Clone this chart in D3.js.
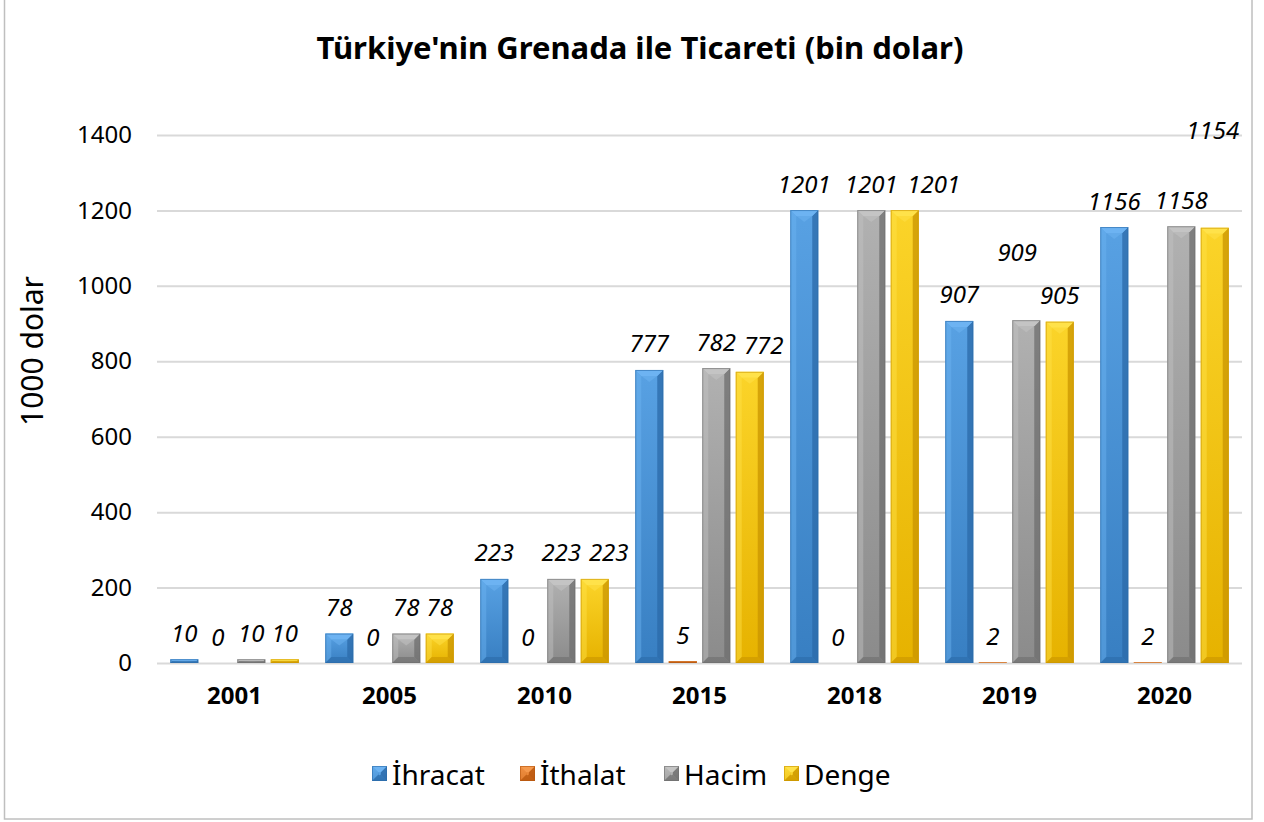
<!DOCTYPE html>
<html>
<head>
<meta charset="utf-8">
<script src="https://cdn.jsdelivr.net/npm/d3@7"></script>
<style>
  html, body { margin: 0; padding: 0; background: #fff; }
  svg { display: block; font-family: 'Noto Sans', sans-serif; }
</style>
</head>
<body>
<div id="chart"></div>
<script>
// Veriler
const years = ['2001', '2005', '2010', '2015', '2018', '2019', '2020'];
const seriesNames = ['İhracat', 'İthalat', 'Hacim', 'Denge'];
const ihracat = [10, 78, 223, 777, 1201, 907, 1156];
const ithalat = [0, 0, 0, 5, 0, 2, 2];
const hacim = [10, 78, 223, 782, 1201, 909, 1158];
const denge = [10, 78, 223, 772, 1201, 905, 1154];
const yTicks = [0, 200, 400, 600, 800, 1000, 1200, 1400];

const seriesValues = [ihracat, ithalat, hacim, denge];

// Renkler
const palette = {
  'İhracat': { light: '#6db3f2', base: '#3f8bd0', dark: '#2b6aa8' },
  'İthalat': { light: '#f59a4e', base: '#e2711d', dark: '#b5560f' },
  'Hacim':   { light: '#c4c4c4', base: '#9a9a9a', dark: '#6e6e6e' },
  'Denge':   { light: '#ffe24a', base: '#f6c200', dark: '#c99400' }
};

// Excel etiket çakışmasından kaynaklanan kaymalar (px)
const labelShift = {
  '2010|Denge': [14, 0],
  '2015|Denge': [14, 0],
  '2018|Denge': [29, 0],
  '2019|Hacim': [-9, -42],
  '2020|Denge': [-2, -71]
};

const width = 1264, height = 822;
const margin = { top: 135, right: 22, bottom: 159, left: 157 };

const svg = d3.select('#chart').append('svg')
  .attr('width', width)
  .attr('height', height);

// Dış çerçeve
svg.append('rect')
  .attr('x', 4.5).attr('y', -2)
  .attr('width', 1247.5).attr('height', 821)
  .attr('fill', 'none')
  .attr('stroke', '#bfbfbf')
  .attr('stroke-width', 1.5);

const x0 = d3.scaleBand()
  .domain(years)
  .range([margin.left, width - margin.right])
  .padding(0);

const x1 = d3.scaleBand()
  .domain(seriesNames)
  .range([0, x0.bandwidth()])
  .paddingInner(0.164)
  .paddingOuter(0.396);

const y = d3.scaleLinear()
  .domain([0, 1400])
  .range([height - margin.bottom, margin.top]);

// Başlık
svg.append('text')
  .attr('x', 640).attr('y', 59)
  .attr('text-anchor', 'middle')
  .attr('font-size', '31px')
  .attr('font-weight', 'bold')
  .attr('fill', '#000')
  .text("Türkiye'nin Grenada ile Ticareti (bin dolar)");

// Izgara
const yAxis = d3.axisLeft(y)
  .tickValues(yTicks)
  .tickSize(-(width - margin.left - margin.right))
  .tickPadding(25)
  .tickFormat(d3.format('d'));

const gy = svg.append('g')
  .attr('transform', `translate(${margin.left},0)`)
  .call(yAxis);
gy.select('.domain').remove();
gy.selectAll('.tick line').attr('stroke', '#d9d9d9').attr('stroke-width', 2);
gy.selectAll('.tick text')
  .attr('font-size', '24px')
  .attr('font-family', "'Noto Sans', sans-serif")
  .attr('fill', '#000');

// Y ekseni başlığı
svg.append('text')
  .attr('transform', 'translate(43,351) rotate(-90)')
  .attr('text-anchor', 'middle')
  .attr('font-size', '30px')
  .attr('fill', '#000')
  .text('1000 dolar');

// X ekseni etiketleri
const xAxis = d3.axisBottom(x0).tickSize(0).tickPadding(24);
const gx = svg.append('g')
  .attr('transform', `translate(0,${height - margin.bottom})`)
  .call(xAxis);
gx.select('.domain').remove();
gx.selectAll('.tick text')
  .attr('font-size', '24px')
  .attr('font-weight', 'bold')
  .attr('font-family', "'Noto Sans', sans-serif")
  .attr('fill', '#000');

// Eğimli (bevel) çubuk çizimi
function drawBar(g, name, bx, by, bw, bh) {
  const c = palette[name];
  if (bh <= 0) return;
  const b = Math.min(6, bh / 2, bw / 2);
  g.append('rect')
    .attr('x', bx).attr('y', by)
    .attr('width', bw).attr('height', bh)
    .attr('fill', `url(#grad-${seriesNames.indexOf(name)})`);
  // sol yüz
  g.append('polygon')
    .attr('points', [[bx, by], [bx + b, by + b], [bx + b, by + bh - b], [bx, by + bh]].join(' '))
    .attr('fill', c.light).attr('opacity', 0.45);
  // sağ yüz
  g.append('polygon')
    .attr('points', [[bx + bw, by], [bx + bw - b, by + b], [bx + bw - b, by + bh - b], [bx + bw, by + bh]].join(' '))
    .attr('fill', c.dark).attr('opacity', 0.75);
  // üst yüz
  g.append('polygon')
    .attr('points', [[bx, by], [bx + bw, by], [bx + bw - b, by + b], [bx + b, by + b]].join(' '))
    .attr('fill', c.light);
  // üst orta parıltı
  g.append('polygon')
    .attr('points', [[bx + b, by + b], [bx + bw - b, by + b], [bx + bw / 2, by + b + Math.min(6, bh / 3)]].join(' '))
    .attr('fill', c.light).attr('opacity', 0.5);
  // alt yüz
  g.append('polygon')
    .attr('points', [[bx, by + bh], [bx + bw, by + bh], [bx + bw - b, by + bh - b], [bx + b, by + bh - b]].join(' '))
    .attr('fill', c.dark).attr('opacity', 0.6);
  // kenar
  g.append('rect')
    .attr('x', bx + 0.5).attr('y', by + 0.5)
    .attr('width', Math.max(0, bw - 1)).attr('height', Math.max(0, bh - 1))
    .attr('fill', 'none')
    .attr('stroke', c.dark).attr('stroke-width', 1).attr('opacity', 0.6);
}

const defs = svg.append('defs');
seriesNames.forEach((name, i) => {
  const c = palette[name];
  const gr = defs.append('linearGradient')
    .attr('id', `grad-${i}`)
    .attr('x1', 0).attr('y1', 0).attr('x2', 0).attr('y2', 1);
  gr.append('stop').attr('offset', '0%').attr('stop-color', d3.interpolateRgb(c.light, c.base)(0.45));
  gr.append('stop').attr('offset', '100%').attr('stop-color', d3.interpolateRgb(c.base, c.dark)(0.35));
});

const barsG = svg.append('g');
const labelsG = svg.append('g');

years.forEach((yr, i) => {
  seriesNames.forEach((name, j) => {
    const v = seriesValues[j][i];
    const bx = x0(yr) + x1(name);
    const bw = x1.bandwidth();
    const top = y(v);
    drawBar(barsG, name, bx, top, bw, y(0) - top);

    const shift = labelShift[`${yr}|${name}`] || [0, 0];
    labelsG.append('text')
      .attr('x', bx + bw / 2 + shift[0])
      .attr('y', top - 27 + shift[1])
      .attr('text-anchor', 'middle')
      .attr('dominant-baseline', 'central')
      .attr('font-size', '24px')
      .attr('font-style', 'italic')
      .attr('fill', '#000')
      .text(v);
  });
});

// Açıklama (legend)
const legendItems = [
  { name: 'İhracat', x: 372 },
  { name: 'İthalat', x: 520 },
  { name: 'Hacim', x: 664 },
  { name: 'Denge', x: 784 }
];
const legend = svg.append('g').attr('transform', 'translate(0,766)');
legendItems.forEach(it => {
  const g = legend.append('g');
  drawBar(g, it.name, it.x, 0, 15, 15);
  g.append('text')
    .attr('x', it.x + 20)
    .attr('y', 8)
    .attr('dominant-baseline', 'central')
    .attr('font-size', '28px')
    .attr('fill', '#000')
    .text(it.name);
});
</script>
</body>
</html>
